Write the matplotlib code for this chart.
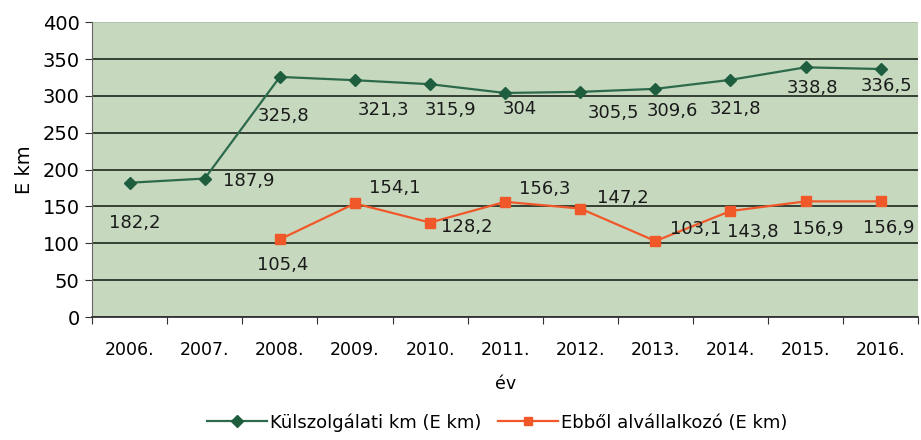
import matplotlib
matplotlib.use("Agg")
import matplotlib.pyplot as plt
from matplotlib.lines import Line2D

years = ["2006.", "2007.", "2008.", "2009.", "2010.", "2011.", "2012.", "2013.", "2014.", "2015.", "2016."]
kulszolg = [182.2, 187.9, 325.8, 321.3, 315.9, 304, 305.5, 309.6, 321.8, 338.8, 336.5]
alvall_years_idx = [2, 3, 4, 5, 6, 7, 8, 9, 10]
alvall = [105.4, 154.1, 128.2, 156.3, 147.2, 103.1, 143.8, 156.9, 156.9]
yticks = [0, 50, 100, 150, 200, 250, 300, 350, 400]

green_label_off = [(5, -40), (44, -2), (4, -39), (29, -30), (20, -26), (15, -16),
                   (33, -21), (17, -22), (5, -29), (7, -21), (6, -17)]
orange_label_off = [(3, -26), (40, 15), (37, -4), (40, 13), (43, 11), (40, 12),
                    (22, -21), (12, -28), (8, -27)]

def fmt(v):
    s = ("%.1f" % v).rstrip("0").rstrip(".")
    return s.replace(".", ",")

fig = plt.figure(figsize=(9.21, 4.40), dpi=100)
ax = fig.add_axes([0.1, 0.2795, 0.897, 0.67])
ax.set_facecolor("#c6d9bf")

green = "#2d6a4c"
gmark = "#1f5d3f"
orange = "#f0582a"

x = list(range(len(years)))
ax.plot(x, kulszolg, color=green, lw=1.6, marker="D", ms=6.5, mfc=gmark, mec=gmark, zorder=3)
ax.plot(alvall_years_idx, alvall, color=orange, lw=1.6, marker="s", ms=7, mfc=orange, mec=orange, zorder=3)

for xi, v, off in zip(x, kulszolg, green_label_off):
    ax.annotate(fmt(v), (xi, v), xytext=off, textcoords="offset pixels",
                ha="center", va="center", fontsize=13, color="#1a1a1a")
for xi, v, off in zip(alvall_years_idx, alvall, orange_label_off):
    ax.annotate(fmt(v), (xi, v), xytext=off, textcoords="offset pixels",
                ha="center", va="center", fontsize=13, color="#1a1a1a")

ax.set_xlim(-0.5, len(years) - 0.5)
ax.set_ylim(0, 400)
ax.set_yticks(yticks)
ax.set_yticklabels([str(t) for t in yticks], fontsize=14)
ax.yaxis.grid(True, color="#2a3328", lw=1.3)
ax.get_ygridlines()[-1].set_alpha(0.15)
ax.set_axisbelow(True)

ax.set_xticks([i - 0.5 for i in range(len(years) + 1)])
ax.set_xticklabels([""] * (len(years) + 1))
ax.set_xticks(x, minor=True)
ax.set_xticklabels(years, minor=True, fontsize=12.5)
ax.tick_params(axis="x", which="minor", length=0, pad=17)
ax.tick_params(axis="x", which="major", length=5, direction="out", color="#333333")
ax.tick_params(axis="y", length=5, direction="out", color="#333333", pad=4)

for s in ["top", "right"]:
    ax.spines[s].set_visible(False)
ax.spines["left"].set_color("#666666")
ax.spines["bottom"].set_color("#333333")
ax.spines["bottom"].set_linewidth(1.3)

ax.set_ylabel("E km", fontsize=14, labelpad=6)
ax.set_xlabel("év", fontsize=12.5, labelpad=12)

handles = [Line2D([], [], color=green, lw=1.6, marker="D", ms=6, mfc=gmark, mec=gmark),
           Line2D([], [], color=orange, lw=1.6, marker="s", ms=6, mfc=orange, mec=orange)]
fig.legend(handles, ["Külszolgálati km (E km)", "Ebből alvállalkozó (E km)"],
           loc="center", bbox_to_anchor=(0.54, 0.04), ncol=2, frameon=False,
           fontsize=13, handlelength=3.3, columnspacing=0.9, handletextpad=0.2)

fig.savefig("out.png", dpi=100, facecolor="white")
